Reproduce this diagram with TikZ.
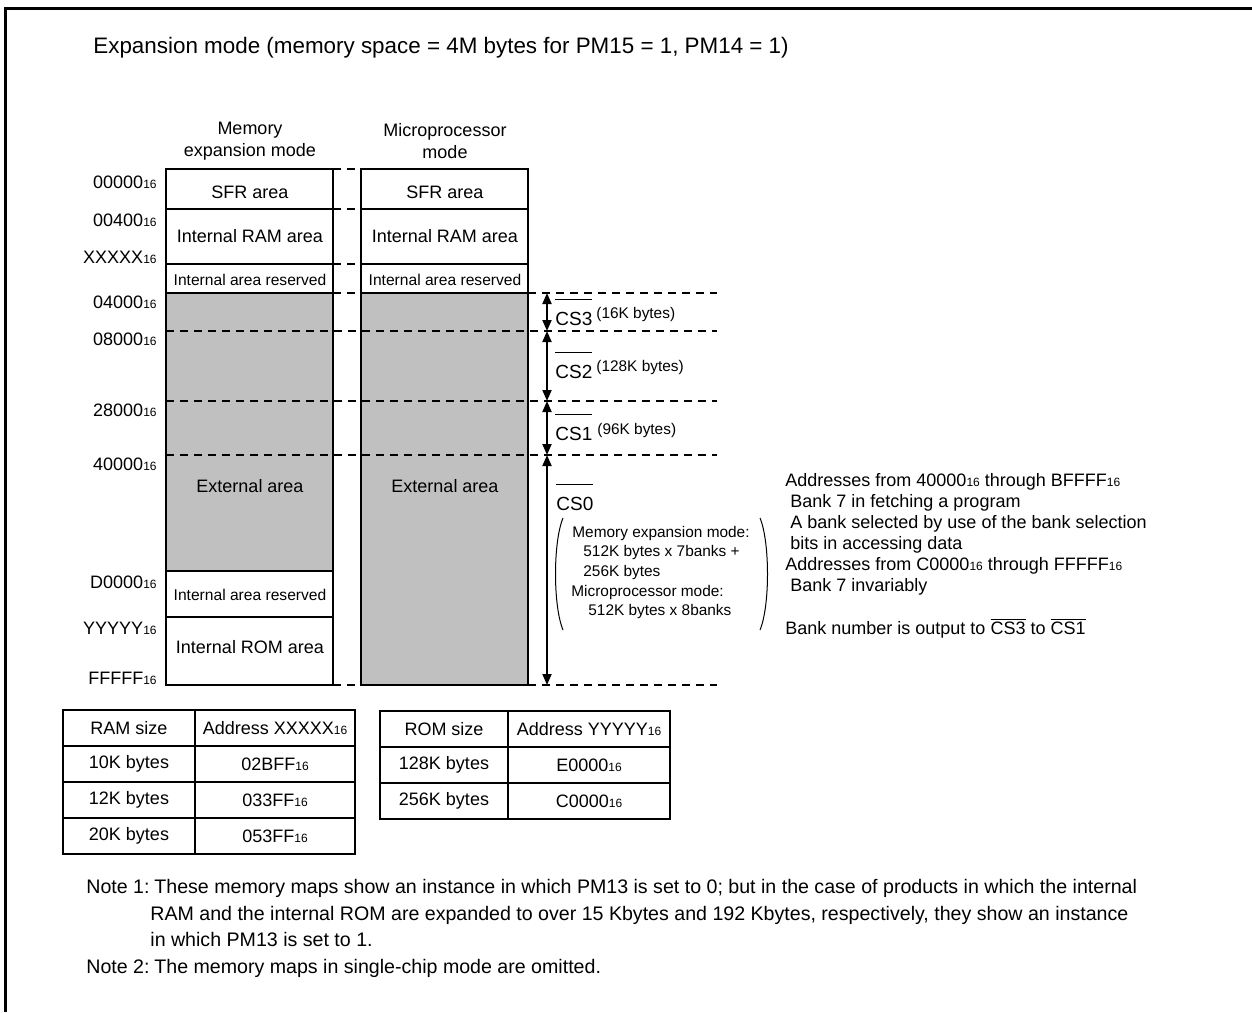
\documentclass[tikz,border=0pt]{standalone}
\usepackage{fontspec}
\setmainfont{Liberation Sans}
\usetikzlibrary{arrows.meta}

\definecolor{extgray}{RGB}{192,192,192}
\newcommand\hx[1]{#1{\fontsize{6}{7}\selectfont 16}}
\newcommand\nsig[1]{$\overline{\rule{0pt}{2.3ex}\mbox{#1}}$}

\begin{document}
\begin{tikzpicture}[x=0.5pt,y=-0.5pt,
  font=\fontsize{9}{11}\selectfont,
  area/.style={draw,line width=1pt},
  ext/.style={area,fill=extgray},
  guide/.style={line width=0.7pt,dash pattern=on 4pt off 3pt},
  span/.style={{Triangle[length=5.5pt,width=4.5pt]}-{Triangle[length=5.5pt,width=4.5pt]},line width=0.9pt},
  addr/.style={anchor=east,inner sep=0pt},
  cs/.style={anchor=base west,inner sep=0pt,font=\fontsize{9.5}{11}\selectfont},
  small/.style={anchor=west,inner sep=0pt,font=\fontsize{7.7}{9}\selectfont},
  rsv/.style={font=\fontsize{7.8}{9}\selectfont},
  txt/.style={anchor=west,inner sep=0pt},
  notetxt/.style={anchor=base west,inner sep=0pt},
  cell/.style={draw,line width=0.8pt,minimum height=18pt,inner sep=0pt},
]
  \useasboundingbox (0,0) rectangle (1252,1012);
  \draw[line width=1.5pt] (5,1012) -- (5,8) -- (1252,8);
  \node[txt,font=\fontsize{11.2}{13}\selectfont] (title) at (93,48)
    {Expansion mode (memory space = 4M bytes for PM15 = 1, PM14 = 1)};

  % column headings
  \node[align=center] (hmemx) at (250,141) {Memory\\expansion mode};
  \node[align=center] (hmpro) at (445,141) {Microprocessor\\mode};

  % memory maps
  \foreach \lx in {166,361} {
    \draw[area] (\lx,169) rectangle ++(167,40);
    \draw[area] (\lx,209) rectangle ++(167,55);
    \draw[area] (\lx,264) rectangle ++(167,29);
  }
  \draw[ext] (166,293) rectangle (333,571);
  \draw[area] (166,571) rectangle (333,617);
  \draw[area] (166,617) rectangle (333,685);
  \draw[ext] (361,293) rectangle (528,685);

  % boundary guides
  \foreach \y in {169,209,264}
    \draw[guide] (333,\y) -- (361,\y);
  \draw[guide] (333,293) -- (361,293) (528,293) -- (717,293);
  \foreach \y in {331,401,455}
    \draw[guide] (166,\y) -- (717,\y);
  \draw[guide] (333,685) -- (361,685) (528,685) -- (717,685);

  \foreach \cx/\nm in {250/memx,445/mpro} {
    \node (sfr\nm) at (\cx,192) {SFR area};
    \node (iram\nm) at (\cx,236) {Internal RAM area};
    \node[rsv] (rsv\nm) at (\cx,280) {Internal area reserved};
    \node (ext\nm) at (\cx,486) {External area};
  }
  \node[rsv] (rsvlow) at (250,595) {Internal area reserved};
  \node (irom) at (250,647) {Internal ROM area};

  % addresses
  \foreach \a/\y in {00000/182,00400/220,XXXXX/257,04000/302,08000/339,
                     28000/410,40000/464,D0000/582,YYYYY/628,FFFFF/678}
    \node[addr] (a\a) at (157,\y) {\hx{\a}};

  % chip select spans
  \coordinate (b0) at (547,293);
  \coordinate (b1) at (547,331);
  \coordinate (b2) at (547,401);
  \coordinate (b3) at (547,455);
  \coordinate (b4) at (547,685);
  \draw[span] (b0) -- (b1);
  \draw[span] (b1) -- (b2);
  \draw[span] (b2) -- (b3);
  \draw[span] (b3) -- (b4);

  \node[cs] (cs3) at (555,325) {\nsig{CS3}};
  \node[small] (cs3k) at (596,315) {(16K bytes)};
  \node[cs] (cs2) at (555,378) {\nsig{CS2}};
  \node[small] (cs2k) at (596,368) {(128K bytes)};
  \node[cs] (cs1) at (555,440) {\nsig{CS1}};
  \node[small] (cs1k) at (597,431) {(96K bytes)};
  \node[cs] (cs0) at (556,510) {\nsig{CS0}};

  % bank sizes
  \draw[line width=0.5pt] (563,518) .. controls (553,542) and (553,606) .. (563,630);
  \draw[line width=0.5pt] (760,518) .. controls (770,542) and (770,606) .. (760,630);
  \node[small] (bk1) at (572,534) {Memory expansion mode:};
  \node[small] (bk2) at (583,553) {512K bytes x 7banks +};
  \node[small] (bk3) at (583,573) {256K bytes};
  \node[small] (bk4) at (571,593) {Microprocessor mode:};
  \node[small] (bk5) at (588,612) {512K bytes x 8banks};

  % bank notes
  \node[txt] (n1) at (785,482) {Addresses from \hx{40000} through \hx{BFFFF}};
  \node[txt] (n2) at (790,503) {Bank 7 in fetching a program};
  \node[txt] (n3) at (790,524) {A bank selected by use of the bank selection};
  \node[txt] (n4) at (790,545) {bits in accessing data};
  \node[txt] (n5) at (785,566) {Addresses from \hx{C0000} through \hx{FFFFF}};
  \node[txt] (n6) at (790,587) {Bank 7 invariably};
  \node[txt] (n7) at (785,628) {Bank number is output to $\overline{\mbox{CS3}}$ to $\overline{\mbox{CS1}}$};

  % size tables
  \foreach \sz/\ad [count=\i from 0] in {RAM size/Address \hx{XXXXX},
      10K bytes/\hx{02BFF},12K bytes/\hx{033FF},20K bytes/\hx{053FF}} {
    \node[cell,minimum width=66pt] (ramS\i) at (129,728+36*\i) {\sz};
    \node[cell,minimum width=80pt] (ramA\i) at (275,728+36*\i) {\ad};
  }
  \foreach \sz/\ad [count=\i from 0] in {ROM size/Address \hx{YYYYY},
      128K bytes/\hx{E0000},256K bytes/\hx{C0000}} {
    \node[cell,minimum width=64pt] (romS\i) at (444,729+36*\i) {\sz};
    \node[cell,minimum width=81pt] (romA\i) at (589,729+36*\i) {\ad};
  }

  % notes
  \begin{scope}[font=\fontsize{9.8}{12}\selectfont]
    \node[notetxt] (note1) at (86,893) {Note 1:};
    \node[notetxt] (note1a) at (154,893) {These memory maps show an instance in which PM13 is set to 0; but in the case of products in which the internal};
    \node[notetxt] (note1b) at (150,920) {RAM and the internal ROM are expanded to over 15 Kbytes and 192 Kbytes, respectively, they show an instance};
    \node[notetxt] (note1c) at (150,946) {in which PM13 is set to 1.};
    \node[notetxt] (note2) at (86,973) {Note 2:};
    \node[notetxt] (note2a) at (154,973) {The memory maps in single-chip mode are omitted.};
  \end{scope}
\end{tikzpicture}
\end{document}
